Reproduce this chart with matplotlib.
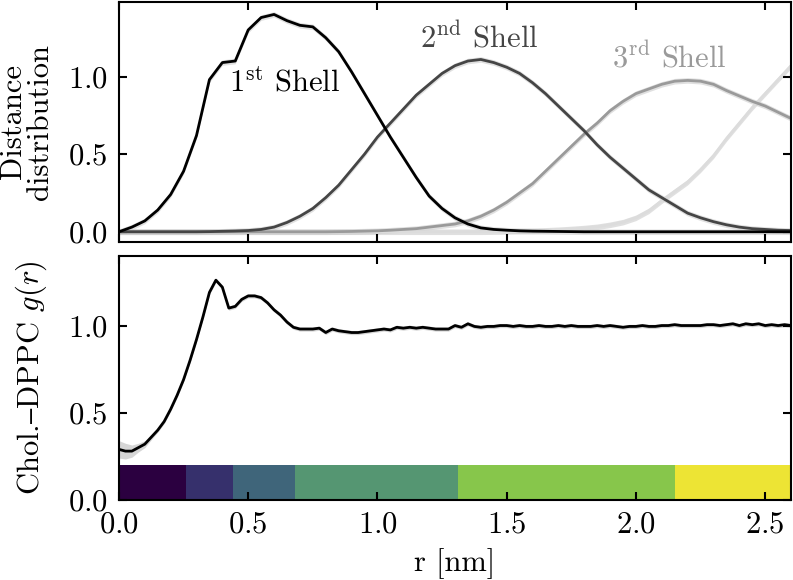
import numpy as np
import matplotlib
matplotlib.use("Agg")
import matplotlib.pyplot as plt

plt.rcParams['font.family'] = ['cmr10', 'DejaVu Serif']
plt.rcParams['mathtext.fontset'] = 'cm'
plt.rcParams['axes.formatter.use_mathtext'] = True
plt.rcParams['font.size'] = 22
plt.rcParams['axes.linewidth'] = 1.5

# distance distributions of the shells, sampled every 0.05 nm from 0 to 2.6
shell1 = [0.00, 0.03, 0.07, 0.14, 0.24, 0.39, 0.62, 0.98, 1.09, 1.10,
          1.30, 1.38, 1.40, 1.36, 1.33, 1.32, 1.25, 1.16, 1.03, 0.89,
          0.75, 0.61, 0.48, 0.35, 0.23, 0.15, 0.09, 0.05, 0.025, 0.015,
          0.01, 0.006, 0.004, 0.003, 0.002, 0.001, 0.0, 0.0, 0.0, 0.0,
          0.0, 0.0, 0.0, 0.0, 0.0, 0.0, 0.0, 0.0, 0.0, 0.0,
          0.0, 0.0, 0.0]
shell2 = [0.0, 0.0, 0.0, 0.0, 0.0, 0.0, 0.0, 0.001, 0.003, 0.005,
          0.008, 0.015, 0.03, 0.06, 0.10, 0.15, 0.22, 0.30, 0.40, 0.50,
          0.61, 0.70, 0.79, 0.88, 0.95, 1.02, 1.07, 1.10, 1.11, 1.09,
          1.06, 1.02, 0.96, 0.89, 0.81, 0.73, 0.65, 0.56, 0.48, 0.41,
          0.34, 0.27, 0.22, 0.17, 0.12, 0.09, 0.065, 0.045, 0.03, 0.02,
          0.015, 0.01, 0.008]
shell3 = [0.0, 0.0, 0.0, 0.0, 0.0, 0.0, 0.0, 0.0, 0.0, 0.0,
          0.0, 0.0, 0.0, 0.0, 0.0, 0.0, 0.0, 0.001, 0.002, 0.004,
          0.006, 0.01, 0.015, 0.02, 0.03, 0.04, 0.05, 0.07, 0.10, 0.14,
          0.19, 0.25, 0.31, 0.39, 0.47, 0.55, 0.63, 0.70, 0.78, 0.84,
          0.89, 0.92, 0.95, 0.97, 0.975, 0.97, 0.95, 0.91, 0.875, 0.84,
          0.81, 0.77, 0.73]
shell4 = [0.0, 0.0, 0.0, 0.0, 0.0, 0.0, 0.0, 0.0, 0.0, 0.0,
          0.0, 0.0, 0.0, 0.0, 0.0, 0.0, 0.0, 0.0, 0.0, 0.0,
          0.0, 0.0, 0.0, 0.0, 0.0, 0.0, 0.0, 0.0, 0.0, 0.001,
          0.002, 0.004, 0.006, 0.009, 0.013, 0.018, 0.024, 0.032, 0.045, 0.062,
          0.09, 0.135, 0.20, 0.26, 0.32, 0.40, 0.49, 0.60, 0.70, 0.80,
          0.89, 0.98, 1.07]
shell_colors = ['black', '#454545', '#9a9a9a', '#dcdcdc']
shell_names = ['1$^{\\mathrm{st}}$ Shell', '2$^{\\mathrm{nd}}$ Shell', '3$^{\\mathrm{rd}}$ Shell']

# Chol.-DPPC g(r), sampled every 0.025 nm from 0 to 2.6
g_r = [0.29, 0.28, 0.28, 0.30, 0.32, 0.36, 0.40, 0.45, 0.52, 0.60,
       0.69, 0.80, 0.92, 1.05, 1.19, 1.26, 1.22, 1.10, 1.11, 1.15,
       1.17, 1.17, 1.16, 1.13, 1.09, 1.06, 1.02, 0.99, 0.98, 0.98,
       0.98, 0.985, 0.96, 0.98, 0.97, 0.965, 0.96, 0.96, 0.965, 0.97,
       0.975, 0.98, 0.975, 0.99, 0.985,
       0.99, 0.985, 0.99, 0.985, 0.98, 0.98, 0.98, 1.0, 0.99, 1.01,
       0.995, 0.99, 0.995, 0.995, 1.0, 1.0, 0.995, 1.0, 0.995, 0.995,
       1.0, 0.995, 0.995, 1.0, 0.995, 1.0, 0.995, 0.995, 0.995, 1.0,
       0.995, 1.0, 0.995, 0.99, 0.995, 0.995, 1.0, 0.995, 0.995, 1.0,
       1.0, 1.005, 1.0, 1.0, 1.0, 1.0, 1.005, 1.005, 1.0, 1.005,
       1.01, 1.0, 1.01, 1.005, 1.01, 1.0, 1.005, 1.0, 1.005, 1.0]
g_err_start = [0.05, 0.045, 0.035, 0.025, 0.02, 0.015]

# shell regions shown as coloured bar
shell_edges = [0.0, 0.26, 0.44, 0.68, 1.31, 2.15, 2.6]
shell_bar_colors = ['#2b0040', '#36306c', '#3f657a', '#559672', '#87c64b', '#ede434']

assert len(shell1) == len(shell2) == len(shell3) == len(shell4) == 53
assert len(g_r) == 105

r_shell = np.linspace(0, 2.6, len(shell1))
r_g = np.linspace(0, 2.6, len(g_r))
g_err = np.concatenate([g_err_start, np.full(len(g_r) - len(g_err_start), 0.012)])

fig = plt.figure(figsize=(7.93, 5.8), dpi=100)
ax1 = fig.add_axes([0.150, 0.583, 0.8475, 0.4135])
ax2 = fig.add_axes([0.150, 0.138, 0.8475, 0.421])

for vals, col in zip([shell4, shell3, shell2, shell1], shell_colors[::-1]):
    vals = np.array(vals)
    ax1.fill_between(r_shell, vals - 0.018, vals + 0.018, color='#cccccc', alpha=0.6, lw=0)
    ax1.plot(r_shell, vals, color=col, lw=2)

ax1.text(0.64, 0.96, shell_names[0], color=shell_colors[0], ha='center', va='center')
ax1.text(1.395, 1.25, shell_names[1], color=shell_colors[1], ha='center', va='center')
ax1.text(2.13, 1.12, shell_names[2], color=shell_colors[2], ha='center', va='center')

ax1.set_xlim(0, 2.6)
ax1.set_ylim(-0.065, 1.48)
ax1.set_yticks([0.0, 0.5, 1.0])
ax1.set_xticks([0.0, 0.5, 1.0, 1.5, 2.0, 2.5])
ax1.set_xticklabels([])
ax1.set_ylabel('Distance\ndistribution', linespacing=1.0, labelpad=10)

widths = np.diff(shell_edges)
ax2.bar(shell_edges[:-1], [0.2] * len(widths), width=widths, align='edge',
        color=shell_bar_colors, lw=0)
g = np.array(g_r)
ax2.fill_between(r_g, g - g_err, g + g_err, color='#cccccc', alpha=0.8, lw=0)
ax2.plot(r_g, g, color='black', lw=2)

ax2.set_xlim(0, 2.6)
ax2.set_ylim(0, 1.4)
ax2.set_yticks([0.0, 0.5, 1.0])
ax2.set_xticks([0.0, 0.5, 1.0, 1.5, 2.0, 2.5])
ax2.set_ylabel('Chol.$\\mathrm{\u2013}$DPPC $g(r)$', labelpad=14)
ax2.set_xlabel('r [nm]', labelpad=7)

for ax in [ax1, ax2]:
    ax.tick_params(direction='in', top=True, right=True, length=6, width=1.5, pad=8)

fig.savefig('out.png', dpi=100)
